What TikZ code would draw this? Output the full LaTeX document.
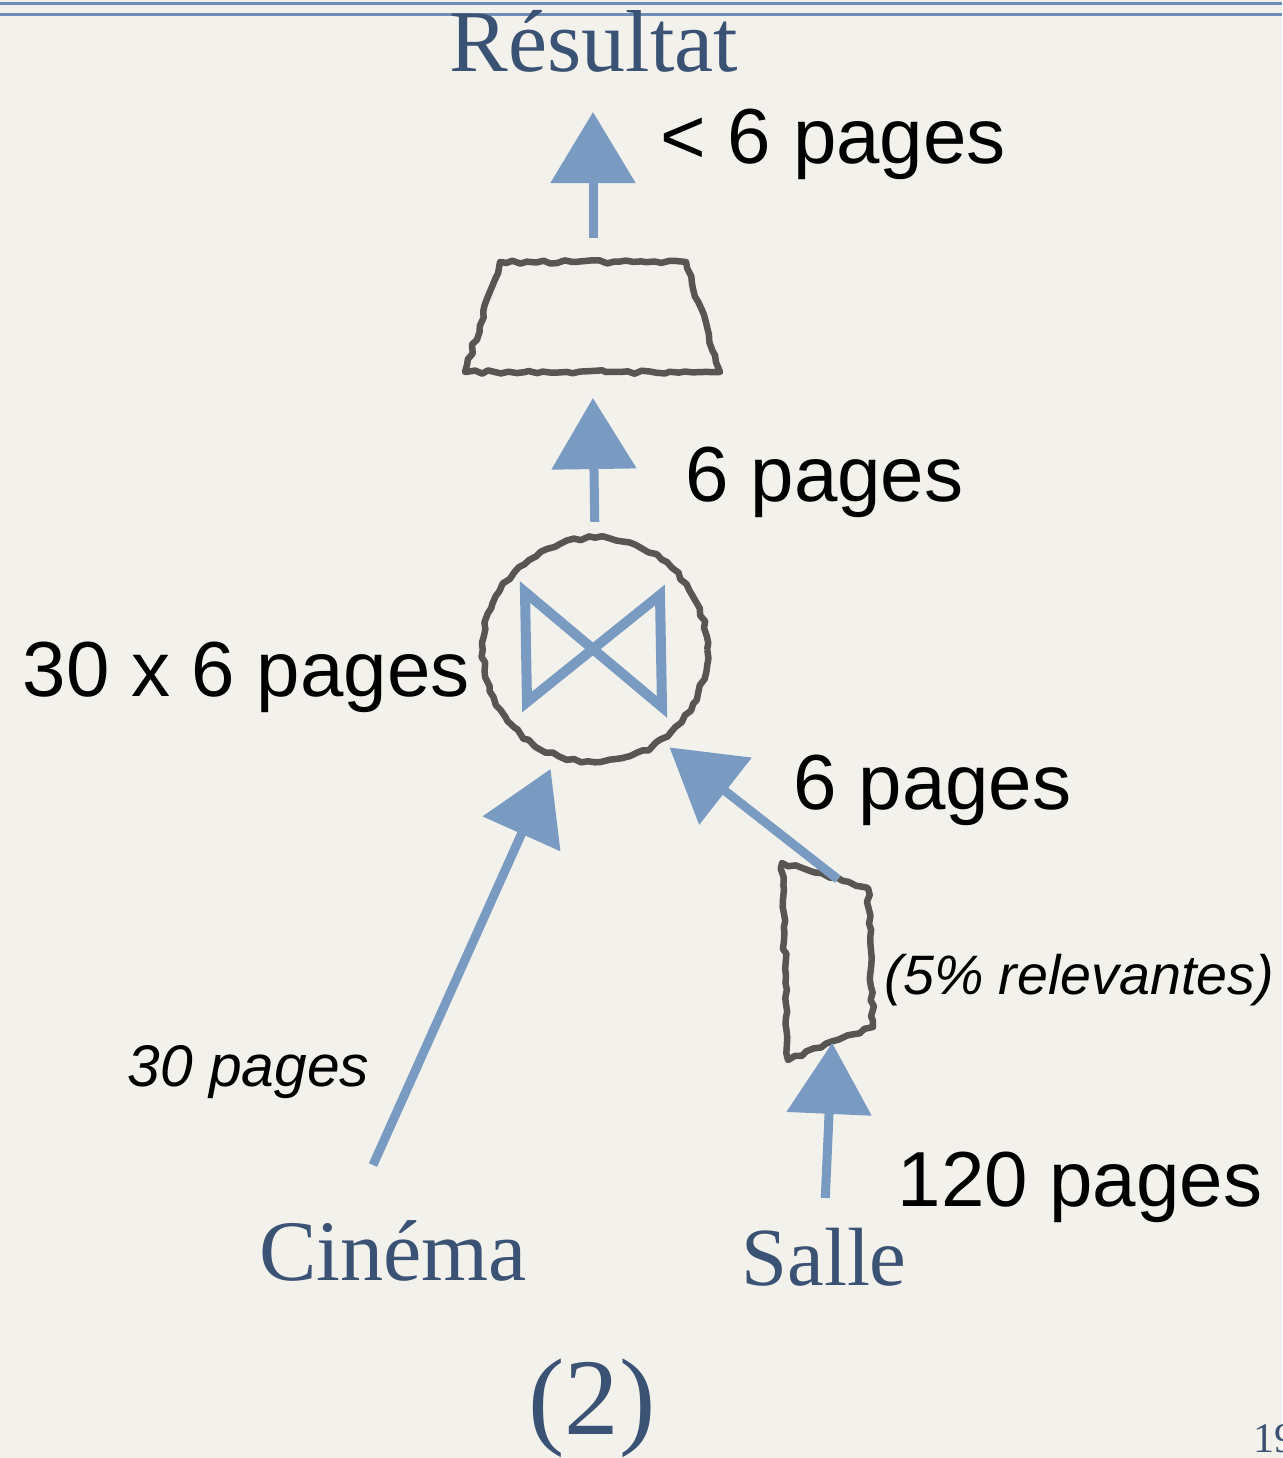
\documentclass[tikz,border=0pt]{standalone}
\usepackage{fontspec}
\setmainfont{Liberation Serif}
\newfontfamily\sizefont{Liberation Sans}
\usepackage{xcolor}
\usetikzlibrary{arrows.meta,calc,positioning,shapes.geometric,decorations.pathmorphing}
\definecolor{paper}{RGB}{243,241,236}
\definecolor{rulerblue}{RGB}{111,141,181}
\definecolor{arrowblue}{RGB}{122,155,193}
\definecolor{titleblue}{RGB}{58,82,115}
\definecolor{pencil}{RGB}{88,86,82}
\tikzset{
  rough/.style={draw=pencil, line width=0.065cm, line join=round, decorate, decoration={random steps, segment length=2pt, amplitude=0.5pt}},
  flow/.style={draw=arrowblue, line width=0.09cm, -{Triangle[length=0.71cm,width=0.83cm]}},
  bowtie/.style={draw=arrowblue, line width=0.1cm, line join=miter},
  joinop/.style={rough, circle, minimum size=2.24cm, inner sep=0pt, outer sep=0pt},
  relname/.style={anchor=base, text=titleblue, inner sep=0pt, font=\fontsize{24.5pt}{28pt}\selectfont},
  pagesize/.style={anchor=base west, inner sep=0pt, font=\sizefont\fontsize{22.2pt}{26pt}\selectfont},
  pagenote/.style={anchor=base west, inner sep=0pt, font=\sizefont\itshape\fontsize{16.7pt}{20pt}\selectfont},
}
\begin{document}
\begin{tikzpicture}[x=0.01cm, y=-0.01cm]
  \fill[paper] (0,0) rectangle (1282,1458);% paper background
  \useasboundingbox (0,0) rectangle (1282,1458);
  \draw[rulerblue, line width=0.03cm] (0,4) -- (1282,4) (0,15) -- (1282,15);% double rule on top

  % operators
  \coordinate (proj-nw) at (500,262);
  \coordinate (proj-ne) at (686,262);
  \coordinate (proj-se) at (720,372);
  \coordinate (proj-sw) at (465,372);
  \draw[rough] (proj-nw) -- (proj-ne) -- (proj-se) -- (proj-sw) -- cycle;% projection
  \coordinate (proj-n) at ($(proj-nw)!0.5!(proj-ne)$);
  \coordinate (proj-s) at ($(proj-sw)!0.5!(proj-se)$);
  \node[joinop] (join) at (595,650) {};
  \draw[bowtie] ($(join)+(-70,-58)$) -- ($(join)+(67,57)$) -- ($(join)+(65,-55)$) -- ($(join)+(-68,52)$) -- cycle;
  \coordinate (sel-nw) at (782,863);
  \coordinate (sel-ne) at (868,888);
  \coordinate (sel-se) at (873,1027);
  \coordinate (sel-sw) at (788,1060);
  \draw[rough] (sel-nw) -- (sel-ne) -- (sel-se) -- (sel-sw) -- cycle;% selection
  \coordinate (sel-n) at ($(sel-nw)!0.65!(sel-ne)$);
  \coordinate (sel-s) at ($(sel-sw)!0.52!(sel-se)$);

  % relations
  \node[relname, font=\fontsize{25pt}{29pt}\selectfont] (result) at (594,72) {Résultat};
  \node[relname] (cinema) at (393,1280) {Cinéma};
  \node[relname, font=\fontsize{23.5pt}{27pt}\selectfont] (salle) at (824,1285) {Salle};
  \node[relname, font=\fontsize{31pt}{34pt}\selectfont] (num) at (592,1434) {(2)};
  \node[anchor=base west, inner sep=0pt, text=titleblue, font=\fontsize{12pt}{14pt}\selectfont] (slide) at (1253,1452) {19};

  % arrows
  \coordinate (res-in) at (593,112);
  \coordinate (cin-out) at (373,1165);
  \draw[flow, shorten <=0.24cm] (proj-n) -- (res-in);
  \draw[flow, shorten <=0.16cm, shorten >=0.26cm] (join.north) -- (proj-s);
  \draw[flow, shorten >=0.15cm] (cin-out) -- (join.250);
  \draw[flow, shorten >=0.11cm] (sel-n) -- (join.306);
  \draw[flow, shorten <=0.29cm] (salle.north) -- (sel-s);

  % sizes
  \node[pagesize] (size-res) at (660,164) {< 6 pages};
  \node[pagesize] (size-join) at (685,501) {6 pages};
  \node[pagesize] (size-prod) at (22,696) {30 x 6 pages};
  \node[pagesize] (size-sel) at (793,809) {6 pages};
  \node[pagesize] (size-salle) at (897,1206) {120 pages};
  \node[pagenote] (size-cin) at (127,1086) {30 pages};
  \node[pagenote, font=\sizefont\itshape\fontsize{15.8pt}{19pt}\selectfont] (rate-sel) at (884,994) {(5\% relevantes)};
\end{tikzpicture}
\end{document}
